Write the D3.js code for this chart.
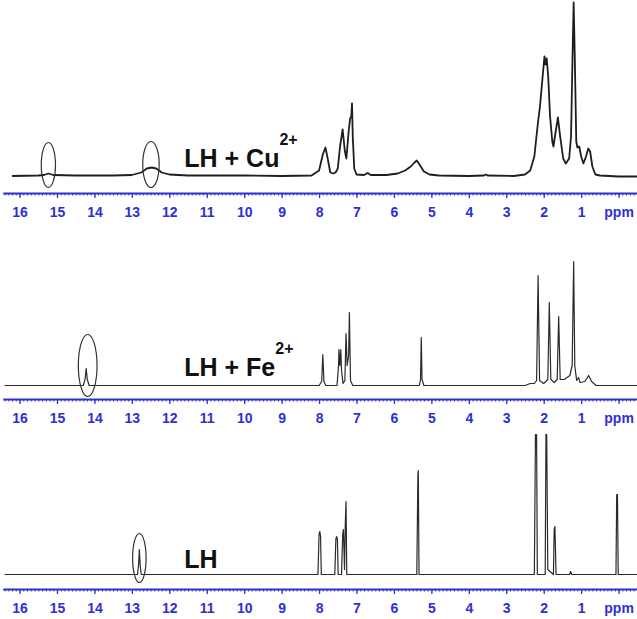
<!DOCTYPE html>
<html>
<head>
<meta charset="utf-8">
<script src="https://cdn.jsdelivr.net/npm/d3@7"></script>
<style>
body{margin:0;background:#fff}
svg{display:block}
</style>
</head>
<body>
<svg width="637" height="619"></svg>
<script>
var espectro_cu = [[16.2,0.5],[15.5,1],[15.35,1.5],[15.23,3],[15.1,1.5],[14.5,1],[13.5,1],[13.0,1.5],[12.75,4],[12.6,8],[12.47,9],[12.35,8],[12.2,4],[12.0,2],[11.5,1],[10,1],[9,0.5],[8.2,1],[8.0,6],[7.9,22],[7.83,29],[7.77,18],[7.7,4],[7.62,3],[7.56,4],[7.5,8],[7.44,30],[7.37,47],[7.31,25],[7.27,18],[7.21,45],[7.17,58],[7.14,60],[7.12,73],[7.1,40],[7.06,8],[7.0,2],[6.8,1.5],[6.7,3.5],[6.62,1.5],[6.2,1.5],[5.9,3],[5.7,6],[5.55,10],[5.45,14],[5.39,16],[5.3,11],[5.2,5],[5.05,2],[4.8,1],[4.0,0.5],[3.6,1],[3.55,2],[3.5,1],[2.8,0.5],[2.5,2],[2.36,6],[2.25,20],[2.15,55],[2.1,70],[2.04,95],[1.98,120],[1.95,112],[1.92,118],[1.88,100],[1.83,60],[1.77,35],[1.74,30],[1.68,45],[1.62,59],[1.56,40],[1.48,18],[1.41,13],[1.32,18],[1.27,40],[1.23,120],[1.2,174],[1.17,120],[1.13,35],[1.1,29],[1.05,30],[1.0,20],[0.94,13],[0.87,20],[0.81,28],[0.76,25],[0.7,10],[0.62,2],[0.5,1],[0,0],[-0.5,0]];
var espectro_fe = [[16.4,0],[14.3,0],[14.25,6],[14.22,17],[14.19,6],[14.14,0],[8.0,0],[7.93,4],[7.9,31],[7.87,4],[7.82,0],[7.52,0],[7.48,20],[7.47,36],[7.445,20],[7.42,36],[7.40,15],[7.36,2],[7.31,5],[7.28,52],[7.25,20],[7.21,30],[7.19,73],[7.16,5],[7.1,0],[5.32,0],[5.29,6],[5.27,48],[5.25,6],[5.2,0],[2.5,0],[2.36,2],[2.25,2],[2.19,5],[2.15,110],[2.11,5],[2.0,2],[1.89,6],[1.85,83],[1.81,6],[1.72,3],[1.64,6],[1.6,69],[1.56,6],[1.45,6],[1.38,8],[1.3,10],[1.24,20],[1.2,124],[1.17,20],[1.12,5],[1.07,8],[1.03,3],[0.9,4],[0.8,10],[0.72,4],[0.6,0],[-0.5,0]];
var espectro_lh = [[16.4,0],[12.85,0],[12.82,10],[12.80,25],[12.78,10],[12.75,0],[8.03,0],[8.0,40],[7.98,43],[7.96,38],[7.94,0],[7.58,0],[7.55,36],[7.53,38],[7.51,35],[7.49,0],[7.40,0],[7.37,40],[7.35,45],[7.32,5],[7.30,50],[7.28,73],[7.26,0],[5.39,0],[5.36,100],[5.35,104],[5.33,0],[2.25,0],[2.22,140],[2.19,140],[2.17,0],[1.96,0],[1.94,140],[1.92,140],[1.89,5],[1.74,0],[1.72,45],[1.70,48],[1.67,0],[1.31,0],[1.28,3],[1.25,0],[0.07,0],[0.05,80],[0.03,80],[0.01,0],[-0.5,0]];

var etiquetas = ["LH + Cu", "LH + Fe", "LH"];
var cargas = ["2+", "2+", ""];

// [ppm centro, semiancho ppm, intensidad abajo, intensidad arriba]
var circulos_cu = [[15.23,0.19,-11,34],[12.49,0.22,-11,35]];
var circulos_fe = [[14.18,0.25,-11,51]];
var circulos_lh = [[12.80,0.18,-8,41]];

var ticks_ppm = d3.range(16, -1, -1);
var ticks_menores = d3.range(164, -5, -1).map(function(d){ return d / 10; });

var svg = d3.select("svg");
var azul = "#2f2fd2";

var x = d3.scaleLinear().domain([16.45, -0.5]).range([2.7, 637.3]);

var paneles = [
  {datos: espectro_cu, circulos: circulos_cu, base: 176.5, eje: 193, grosor: 1.8, color: "#1e1e1e"},
  {datos: espectro_fe, circulos: circulos_fe, base: 385.5, eje: 399, grosor: 1.2, color: "#2a2a2a"},
  {datos: espectro_lh, circulos: circulos_lh, base: 574.5, eje: 589, grosor: 1.2, color: "#2a2a2a"}
];

paneles.forEach(function(p, i){

  var y = d3.scaleLinear().domain([0, 100]).range([p.base, p.base - 100]);
  var g = svg.append("g").attr("class", "panel");

  var linea = d3.line()
      .x(function(d){ return x(d[0]); })
      .y(function(d){ return y(d[1]); });

  g.append("path")
      .datum(p.datos)
      .attr("d", linea)
      .attr("fill", "none")
      .attr("stroke", p.color)
      .attr("stroke-width", p.grosor)
      .attr("stroke-linejoin", "round");

  g.selectAll(".circulo")
      .data(p.circulos)
      .enter().append("ellipse")
      .attr("class", "circulo")
      .attr("cx", function(d){ return x(d[0]); })
      .attr("cy", function(d){ return (y(d[2]) + y(d[3])) / 2; })
      .attr("rx", function(d){ return x(d[0] - d[1]) - x(d[0]); })
      .attr("ry", function(d){ return (y(d[2]) - y(d[3])) / 2; })
      .attr("fill", "none")
      .attr("stroke", "#333")
      .attr("stroke-width", 1.2);

  // ticks menores
  g.append("g")
      .attr("transform", "translate(0," + p.eje + ")")
      .call(d3.axisBottom(x).tickValues(ticks_menores).tickSize(2.5).tickFormat(""))
      .call(function(s){
        s.select(".domain").remove();
        s.selectAll("line").attr("stroke", azul).attr("stroke-width", 1);
      });

  g.append("g")
      .attr("transform", "translate(0," + p.eje + ")")
      .call(d3.axisBottom(x).tickValues(ticks_ppm).tickSizeInner(5).tickSizeOuter(0).tickPadding(9)
        .tickFormat(function(d){ return d === 0 ? "ppm" : d; }))
      .call(function(s){
        s.select(".domain").attr("stroke", azul).attr("stroke-width", 2);
        s.selectAll("line").attr("stroke", azul).attr("stroke-width", 1.3);
        s.selectAll("text")
          .attr("fill", azul)
          .style("font", "bold 14px 'Liberation Sans', Arial, sans-serif");
      });

  var texto = g.append("text")
      .attr("x", x(11.6))
      .attr("y", p.base - (i === 2 ? 7 : 10))
      .attr("fill", "#111")
      .style("font", "bold 25px 'Liberation Sans', Arial, sans-serif")
      .text(etiquetas[i]);

  if (cargas[i] !== "") {
    texto.append("tspan")
      .attr("dy", -22)
      .style("font-size", "16px")
      .text(cargas[i]);
  }
});
</script>
</body>
</html>
